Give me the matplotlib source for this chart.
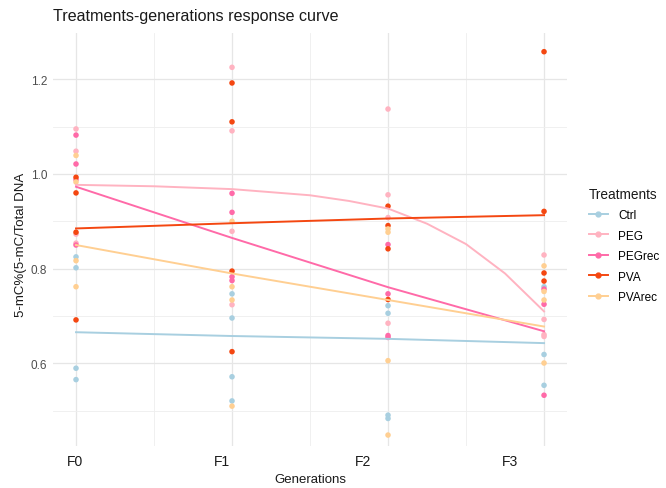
import numpy as np
import matplotlib.pyplot as plt
from matplotlib.lines import Line2D
from matplotlib.transforms import blended_transform_factory

plt.rcParams['font.family'] = ['Liberation Sans', 'DejaVu Sans']

# data
generations = ["F0", "F1", "F2", "F3"]
treatments = ["Ctrl", "PEG", "PEGrec", "PVA", "PVArec"]
colors = ["#a8cfe0", "#ffb3c1", "#ff6aa8", "#f44711", "#ffcf92"]

# replicate values per generation (F0..F3)
ctrl_vals = [[0.825, 0.802, 0.590, 0.566],
             [0.747, 0.696, 0.572, 0.521],
             [0.722, 0.706, 0.491, 0.484],
             [0.762, 0.619, 0.554]]
peg_vals = [[1.095, 1.048, 0.873, 0.854],
            [1.225, 1.091, 0.879, 0.724],
            [1.137, 0.956, 0.908, 0.685],
            [0.829, 0.693, 0.661, 0.657]]
pegrec_vals = [[1.082, 1.021, 0.988, 0.850],
               [0.959, 0.919, 0.783, 0.775],
               [0.851, 0.747, 0.659, 0.655],
               [0.757, 0.725, 0.533]]
pva_vals = [[0.993, 0.960, 0.877, 0.692],
            [1.192, 1.110, 0.795, 0.625],
            [0.932, 0.891, 0.842, 0.735],
            [1.258, 0.921, 0.791, 0.774]]
pvarec_vals = [[1.039, 0.983, 0.817, 0.762],
               [0.900, 0.762, 0.734, 0.510],
               [0.884, 0.877, 0.606, 0.449],
               [0.806, 0.752, 0.734, 0.601]]

# smoothed response curves
curve_x = [0, 1, 2, 3]
ctrl_curve = [0.666, 0.658, 0.652, 0.643]
pegrec_curve = [0.973, 0.865, 0.761, 0.668]
pva_curve = [0.885, 0.896, 0.906, 0.913]
pvarec_curve = [0.850, 0.790, 0.734, 0.678]
peg_curve_x = [0, 0.5, 1, 1.5, 1.75, 2, 2.25, 2.5, 2.75, 3]
peg_curve = [0.977, 0.974, 0.968, 0.955, 0.943, 0.927, 0.895, 0.852, 0.790, 0.710]

all_vals = [ctrl_vals, peg_vals, pegrec_vals, pva_vals, pvarec_vals]
curves = [(curve_x, ctrl_curve), (peg_curve_x, peg_curve), (curve_x, pegrec_curve),
          (curve_x, pva_curve), (curve_x, pvarec_curve)]

fig = plt.figure(figsize=(6.66, 4.89), dpi=100)
ax = fig.add_axes([0.079, 0.086, 0.773, 0.845])

for vals, col in zip(all_vals, colors):
    for g, reps in enumerate(vals):
        ax.scatter([g] * len(reps), reps, s=16, color=col, edgecolors="none", zorder=3)

for (cx, cy), col in zip(curves, colors):
    ax.plot(cx, cy, color=col, lw=1.4, zorder=4)

ax.set_xlim(-0.15, 3.15)
ax.set_ylim(0.426, 1.298)

ax.set_xticks([0, 1, 2, 3])
ax.set_xticks([0.5, 1.5, 2.5], minor=True)
ax.set_xticklabels([])
ax.set_yticks([0.6, 0.8, 1.0, 1.2])
ax.set_yticks([0.5, 0.7, 0.9, 1.1], minor=True)
ax.set_yticklabels(["0.6", "0.8", "1.0", "1.2"])
ax.tick_params(which="both", length=0)
ax.tick_params(axis="y", labelsize=8.5, labelcolor="#4d4d4d", pad=4)
ax.grid(which="major", color="#e6e6e6", lw=0.9)
ax.grid(which="minor", color="#eeeeee", lw=0.6)
ax.set_axisbelow(True)
for s in ax.spines.values():
    s.set_visible(False)

# generation labels sit a little left of the columns in the reference
trans = blended_transform_factory(ax.transData, fig.transFigure)
label_pos = [-0.006, 0.936, 1.840, 2.782]
for xp, lab in zip(label_pos, generations):
    ax.text(xp, 1 - 461.7 / 489, lab, transform=trans, ha="center", va="center",
            fontsize=10, color="#1a1a1a")

fig.text(310 / 666, 1 - 480 / 489, "Generations", ha="center", va="center",
         fontsize=9.5, color="#1a1a1a")
fig.text(21 / 666, 1 - 245 / 489, "5-mC%(5-mC/Total DNA", rotation=90,
         ha="center", va="center", fontsize=9.5, color="#1a1a1a")
fig.text(53 / 666, 1 - 17 / 489, "Treatments-generations response curve",
         ha="left", va="center", fontsize=11.6, color="#1a1a1a")

handles = [Line2D([0], [0], color=c, lw=1.4, marker="o", markersize=3.5) for c in colors]
leg = fig.legend(handles, treatments, title="Treatments", loc="upper left",
                 bbox_to_anchor=(578 / 666, 1 - 177 / 489), frameon=False,
                 fontsize=8.5, title_fontsize=9.8, handlelength=1.6,
                 handletextpad=0.9, labelspacing=0.72, alignment="left")
leg.get_title().set_color("#1a1a1a")

fig.savefig("out.png", dpi=100)
